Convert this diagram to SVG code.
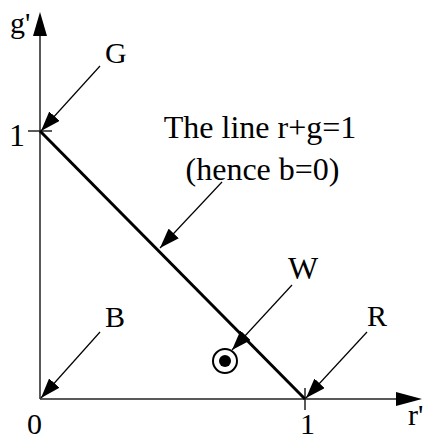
<svg xmlns="http://www.w3.org/2000/svg" width="424" height="441" viewBox="0 0 424 441">
<style>
text{font-family:"Liberation Serif","Times New Roman",serif;font-size:30px;fill:#000}
.big{font-size:32px}
.ax{stroke:#222;stroke-width:1.5;fill:none}
.ptr{stroke:#000;stroke-width:1.2;fill:none;marker-end:url(#ah)}
</style>
<defs>
<marker id="ah" markerUnits="userSpaceOnUse" markerWidth="22" markerHeight="14" refX="20" refY="7" orient="auto">
<path d="M0,0 L20,7 L0,14 Z" fill="#000"/>
</marker>
</defs>
<rect width="424" height="441" fill="#fff"/>
<g id="axes">
<line class="ax" x1="40" y1="399" x2="40" y2="34"/>
<path d="M33,36 L40,12 L47,36 Z" fill="#000"/>
<line class="ax" x1="40" y1="399" x2="398" y2="399"/>
<path d="M396,392 L422,399 L396,406 Z" fill="#000"/>
<line class="ax" x1="28" y1="131" x2="52" y2="131"/>
<line class="ax" x1="305" y1="388" x2="305" y2="410"/>
</g>
<g id="line">
<line x1="40" y1="131" x2="305" y2="399" stroke="#000" stroke-width="3"/>
</g>
<g id="labels">
<text x="10" y="33">g'</text>
<text class="big" x="9" y="146">1</text>
<text x="27" y="434">0</text>
<text x="300" y="434">1</text>
<text x="408" y="425">r'</text>
<text x="105" y="63">G</text>
<text class="big" x="260" y="138" text-anchor="middle">The line r+g=1</text>
<text class="big" x="262.5" y="180" text-anchor="middle">(hence b=0)</text>
<text class="big" x="288" y="279">W</text>
<text x="367" y="326">R</text>
<text x="105" y="327">B</text>
</g>
<g id="W-point">
<circle cx="225" cy="361" r="12" fill="none" stroke="#000" stroke-width="2"/>
<circle cx="225" cy="361" r="6" fill="#000"/>
</g>
<g id="connectors">
<line class="ptr" x1="100" y1="66" x2="41" y2="131"/>
<line class="ptr" x1="222" y1="182" x2="160" y2="248"/>
<line class="ptr" x1="292" y1="285" x2="232" y2="350"/>
<line class="ptr" x1="367" y1="332" x2="306" y2="398"/>
<line class="ptr" x1="100" y1="332" x2="41" y2="398"/>
</g>
</svg>
